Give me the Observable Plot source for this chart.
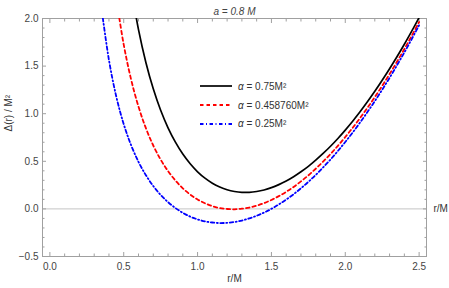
<!DOCTYPE html>
<html>
<head>
<meta charset="utf-8">
<script src="https://cdn.jsdelivr.net/npm/d3@7"></script>
<script src="https://cdn.jsdelivr.net/npm/@observablehq/plot@0.6"></script>
<style>
  html, body { margin: 0; padding: 0; background: #fff; }
  #wrap { position: relative; width: 449px; height: 288px; font-family: "Liberation Sans", Arial, sans-serif; }
  #legend { position: absolute; left: 200px; top: 77px; font-size: 10px; color: #333; }
  #legend .row { display: flex; align-items: center; height: 18.8px; }
  #legend svg { margin-right: 6px; }
  #legend i { font-style: italic; }
</style>
</head>
<body>
<div id="wrap"><div id="legend"></div></div>
<script>
// r/M sample points
const rVals = [0.35,0.40,0.45,0.50,0.55,0.60,0.65,0.70,0.75,0.80,0.85,0.90,0.95,1.00,
  1.05,1.10,1.15,1.20,1.25,1.30,1.35,1.40,1.45,1.50,1.55,1.60,1.65,1.70,1.75,1.80,
  1.85,1.90,1.95,2.00,2.05,2.10,2.15,2.20,2.25,2.30,2.35,2.40,2.45,2.50];
// Δ(r)/M² for α = 0.75 M²
const deltaA075 = [null,null,null,null,2.322,1.883,1.538,1.261,1.036,0.852,0.701,0.576,0.474,0.390,
  0.323,0.270,0.230,0.201,0.183,0.174,0.174,0.183,0.199,0.223,0.255,0.293,0.338,0.390,0.447,0.512,
  0.582,0.658,0.740,0.828,0.921,1.020,1.125,1.235,1.351,1.472,1.598,1.730,1.868,2.010];
// Δ(r)/M² for α = 0.458760 M²
const deltaA0458 = [null,null,2.208,1.725,1.359,1.074,0.848,0.666,0.518,0.397,0.298,0.216,0.151,0.099,
  0.059,0.029,0.009,-0.001,-0.004,0.002,0.014,0.034,0.061,0.094,0.134,0.179,0.231,0.289,0.352,0.422,
  0.497,0.577,0.663,0.755,0.852,0.954,1.062,1.175,1.293,1.417,1.546,1.680,1.819,1.963];
// Δ(r)/M² for α = 0.25 M²
const deltaA025 = [2.103,1.563,1.177,0.890,0.669,0.494,0.354,0.240,0.147,0.071,0.009,-0.041,-0.081,-0.110,
  -0.131,-0.143,-0.149,-0.146,-0.138,-0.122,-0.100,-0.072,-0.039,0.001,0.047,0.098,0.154,0.217,0.284,0.357,
  0.436,0.519,0.608,0.703,0.802,0.907,1.017,1.132,1.252,1.377,1.508,1.643,1.784,1.930];

const seriesAlpha = ["0.75M²", "0.458760M²", "0.25M²"];
const seriesColors = ["#000000", "#ff0000", "#0000ff"];
const seriesDash = [null, "3.5,3", "3.5,2.5,1,2.5"];
const seriesWidth = [1.7, 1.8, 1.8];
const xMajor = [0, 0.5, 1.0, 1.5, 2.0, 2.5];
const yMajor = [-0.5, 0, 0.5, 1.0, 1.5, 2.0];
const xMinor = d3.range(0, 26).map(i => i / 10).filter(v => Math.abs(v * 2 - Math.round(v * 2)) > 1e-9);
const yMinor = d3.range(-5, 21).map(i => i / 10).filter(v => Math.abs(v * 2 - Math.round(v * 2)) > 1e-9);

const allSeries = [deltaA075, deltaA0458, deltaA025];
const rows = [];
allSeries.forEach((arr, s) => arr.forEach((d, i) => rows.push({r: rVals[i], d, s})));

const frameColor = "#a0a0a0";
const fmt = d3.format(".1f");
const axisCommon = {label: null, stroke: frameColor};

const chart = Plot.plot({
  width: 449, height: 288,
  marginLeft: 42, marginRight: 23, marginTop: 18, marginBottom: 32,
  x: {domain: [-0.05, 2.55]},
  y: {domain: [-0.5, 2.0]},
  style: {fontFamily: "'Liberation Sans', Arial, sans-serif", fontSize: "10px", color: "#444", background: "transparent"},
  marks: [
    Plot.ruleY([0], {stroke: "#c4c4c4", strokeWidth: 1}),
    Plot.axisX({...axisCommon, anchor: "bottom", ticks: xMajor, tickSize: -4, tickFormat: () => ""}),
    Plot.axisX({...axisCommon, anchor: "bottom", ticks: xMajor, tickSize: 0, tickPadding: 6, tickFormat: fmt, fill: "#444"}),
    Plot.axisX({...axisCommon, anchor: "bottom", ticks: xMinor, tickSize: -2.5, tickFormat: () => ""}),
    Plot.axisX({...axisCommon, anchor: "top", ticks: xMajor, tickSize: -4, tickFormat: () => ""}),
    Plot.axisX({...axisCommon, anchor: "top", ticks: xMinor, tickSize: -2.5, tickFormat: () => ""}),
    Plot.axisY({...axisCommon, anchor: "left", ticks: yMajor, tickSize: -4, tickFormat: () => ""}),
    Plot.axisY({...axisCommon, anchor: "left", ticks: yMajor, tickSize: 0, tickPadding: 4, tickFormat: fmt, fill: "#444"}),
    Plot.axisY({...axisCommon, anchor: "left", ticks: yMinor, tickSize: -2.5, tickFormat: () => ""}),
    Plot.axisY({...axisCommon, anchor: "right", ticks: yMajor, tickSize: -4, tickFormat: () => ""}),
    Plot.axisY({...axisCommon, anchor: "right", ticks: yMinor, tickSize: -2.5, tickFormat: () => ""}),
    Plot.frame({stroke: frameColor, strokeWidth: 1}),
    ...allSeries.map((arr, s) => Plot.line(rows.filter(o => o.s === s), {
      x: "r", y: "d", stroke: seriesColors[s], strokeWidth: seriesWidth[s],
      strokeDasharray: seriesDash[s], curve: "catmull-rom", clip: true
    })),
    Plot.text(["a = 0.8 M"], {frameAnchor: "top", dy: -11, fontStyle: "italic", fill: "#444"}),
    Plot.text(["r/M"], {frameAnchor: "bottom", dy: 25, fill: "#333"}),
    Plot.text([0], {y: d => d, frameAnchor: "right", dx: 7, textAnchor: "start", text: () => "r/M", fill: "#333"}),
    Plot.text(["Δ(r) / M²"], {frameAnchor: "left", dx: -34, dy: -6, rotate: -90, fill: "#333"})
  ]
});
const wrap = document.getElementById("wrap");
wrap.insertBefore(chart, wrap.firstChild);

const legend = document.getElementById("legend");
seriesAlpha.forEach((val, i) => {
  const row = document.createElement("div");
  row.className = "row";
  row.innerHTML = `<svg width="32" height="6"><line x1="0" x2="32" y1="3" y2="3" stroke="${seriesColors[i]}" stroke-width="${seriesWidth[i]}" ${seriesDash[i] ? `stroke-dasharray="${seriesDash[i]}"` : ""}/></svg><span><i>α</i> = ${val}</span>`;
  legend.appendChild(row);
});
</script>
</body>
</html>
